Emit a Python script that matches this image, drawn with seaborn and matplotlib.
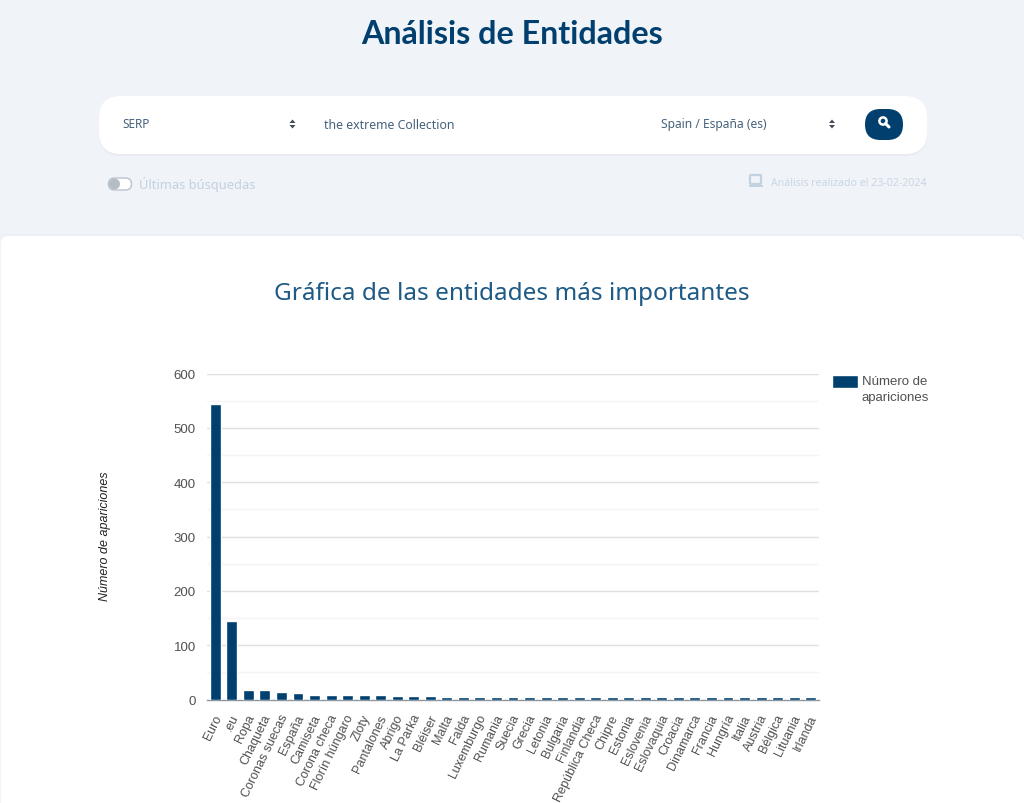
import matplotlib
matplotlib.use("Agg")
import matplotlib.pyplot as plt
from matplotlib.patches import FancyBboxPatch, Circle, Polygon, Rectangle
from matplotlib.transforms import ScaledTranslation
import pandas as pd
import seaborn as sns

categories = ["Euro", ".eu", "Ropa", "Chaqueta", "Coronas suecas", "España", "Camiseta", "Corona checa",
              "Florín húngaro", "Zloty", "Pantalones", "Abrigo", "La Parka", "Bléiser", "Malta", "Falda",
              "Luxemburgo", "Rumania", "Suecia", "Grecia", "Letonia", "Bulgaria", "Finlandia", "República Checa",
              "Chipre", "Estonia", "Eslovenia", "Eslovaquia", "Croacia", "Dinamarca", "Francia", "Hungría",
              "Italia", "Austria", "Bélgica", "Lituania", "Irlanda"]
values = [543, 144, 17, 17, 14, 12, 8, 8, 8, 8, 8, 6, 6, 6, 5, 5,
          5, 5, 5, 5, 5, 5, 5, 5, 5, 5, 5, 5, 5, 5, 5, 5, 5, 5, 5, 5, 5]
major_ticks = [0, 100, 200, 300, 400, 500, 600]
minor_ticks = [50, 150, 250, 350, 450, 550]

NAVY = "#003f6e"
BG = "#f0f3f8"
W, H = 1024, 804

sns.set_theme(style="white")
plt.rcParams["font.family"] = ["Liberation Sans", "DejaVu Sans"]

fig = plt.figure(figsize=(W / 100, H / 100), dpi=100, facecolor=BG)

# page furniture, in pixel coordinates
ui = fig.add_axes([0, 0, 1, 1], zorder=0)
ui.set_xlim(0, W)
ui.set_ylim(H, 0)
ui.axis("off")

for off, col in ((2, "#ebeef4"), (0, "white")):
    ui.add_patch(FancyBboxPatch((1, 237 - off), 1023, 600, boxstyle="round,pad=0,rounding_size=7",
                                fc=col, ec="none"))
for off, col in ((2, "#e8ebf2"), (0, "white")):
    ui.add_patch(FancyBboxPatch((99, 97), 828, 58 + off, boxstyle="round,pad=0,rounding_size=22",
                                fc=col, ec="none"))
ui.add_patch(FancyBboxPatch((865, 110), 38, 31, boxstyle="round,pad=0,rounding_size=15.5", fc=NAVY, ec="none"))
ui.add_patch(Circle((883, 122), 3.6, fc="none", ec="white", lw=1.8))
ui.plot([885.5, 889], [124.5, 128], color="white", lw=2.2, solid_capstyle="round")
for cx in (292.5, 832):
    ui.add_patch(Polygon([(cx - 3, 124), (cx + 3, 124), (cx, 120.5)], fc="#444c55", ec="none"))
    ui.add_patch(Polygon([(cx - 3, 126), (cx + 3, 126), (cx, 129.5)], fc="#444c55", ec="none"))
ui.add_patch(FancyBboxPatch((108.5, 179), 23, 12, boxstyle="round,pad=0,rounding_size=6",
                            fc="white", ec="#b9c3ce", lw=1))
ui.add_patch(Circle((114.5, 185), 5.5, fc="#b4bcc6", ec="none"))
ui.add_patch(FancyBboxPatch((750, 176), 11, 9, boxstyle="round,pad=0,rounding_size=1",
                            fc="none", ec="#c3d2e0", lw=1.6))
ui.add_patch(Rectangle((748.5, 185.5), 14, 2, fc="#c3d2e0", ec="none"))

UI_FONT = ["Noto Sans", "DejaVu Sans"]
ui.text(512, 34.5, "Análisis de Entidades", ha="center", va="center", fontsize=23.2, fontweight="bold",
        color=NAVY, family=["Lato", "DejaVu Sans"])
ui.text(122, 124.5, "SERP", ha="left", va="center", fontsize=8.5, color="#46627c", family=UI_FONT)
ui.text(324, 125.5, "the extreme Collection", ha="left", va="center", fontsize=8.85, color="#46627c", family=UI_FONT)
ui.text(661, 124.5, "Spain / España (es)", ha="left", va="center", fontsize=8.65, color="#46627c", family=UI_FONT)
ui.text(139, 185, "Últimas búsquedas", ha="left", va="center", fontsize=9.25, color="#c3d1df", family=UI_FONT)
ui.text(927, 183, "Análisis realizado el 23-02-2024", ha="right", va="center", fontsize=7.6,
        color="#c9d6e3", family=UI_FONT)
ui.text(512, 294.5, "Gráfica de las entidades más importantes", ha="center", va="center", fontsize=17.5,
        color="#1d5a85", family=UI_FONT)

# chart
ax = fig.add_axes([207 / W, 1 - 700.5 / H, 612 / W, 326 / H], zorder=1)
ax.patch.set_alpha(0)
df = pd.DataFrame({"entidad": categories, "apariciones": values})
sns.barplot(data=df, x="entidad", y="apariciones", color=NAVY, saturation=1, width=0.66, ax=ax,
            label="Número de\napariciones", zorder=3)
ax.set_xlim(-0.5, len(categories) - 0.5)
ax.set_ylim(0, 600)
ax.set_yticks(major_ticks)
ax.set_yticks(minor_ticks, minor=True)
ax.grid(True, which="major", axis="y", color="#e0e0e0", lw=1, zorder=0)
ax.grid(True, which="minor", axis="y", color="#f4f4f4", lw=1, zorder=0)
ax.set_axisbelow(True)
for s in ("top", "left", "right"):
    ax.spines[s].set_visible(False)
ax.spines["bottom"].set_color("#8d98a3")
ax.spines["bottom"].set_linewidth(1)
ax.tick_params(axis="y", which="both", length=0, labelsize=9.5, labelcolor="#505050", pad=8)
ax.tick_params(axis="x", length=0, labelsize=9.0, labelcolor="#505050", pad=9)
ax.set_xticks(range(len(categories)))
ax.set_xticklabels(categories, rotation=64, ha="right", va="top", rotation_mode="anchor")
shift = ScaledTranslation(-2 / 100, 0, fig.dpi_scale_trans)
for lab in ax.get_xticklabels():
    lab.set_transform(lab.get_transform() + shift)
ax.set_xlabel("")
ax.set_ylabel("")
fig.text(105 / W, 1 - 536 / H, "Número de apariciones", rotation=90, ha="center", va="center",
         fontsize=9, style="italic", color="#222222")
leg = ax.legend(loc="upper left", bbox_to_anchor=(831.5 / W, 1 - 376 / H), bbox_transform=fig.transFigure,
                frameon=False, fontsize=9.5, labelcolor="#505050", handlelength=2.0, handleheight=1.0,
                borderpad=0, borderaxespad=0, handletextpad=0.3, labelspacing=0)
for t in leg.get_texts():
    t.set_linespacing(1.4)
leg.legend_handles[0].set_height(9.5)
leg.legend_handles[0].set_y(3.9)

fig.savefig("out.png", dpi=100, facecolor=BG)
